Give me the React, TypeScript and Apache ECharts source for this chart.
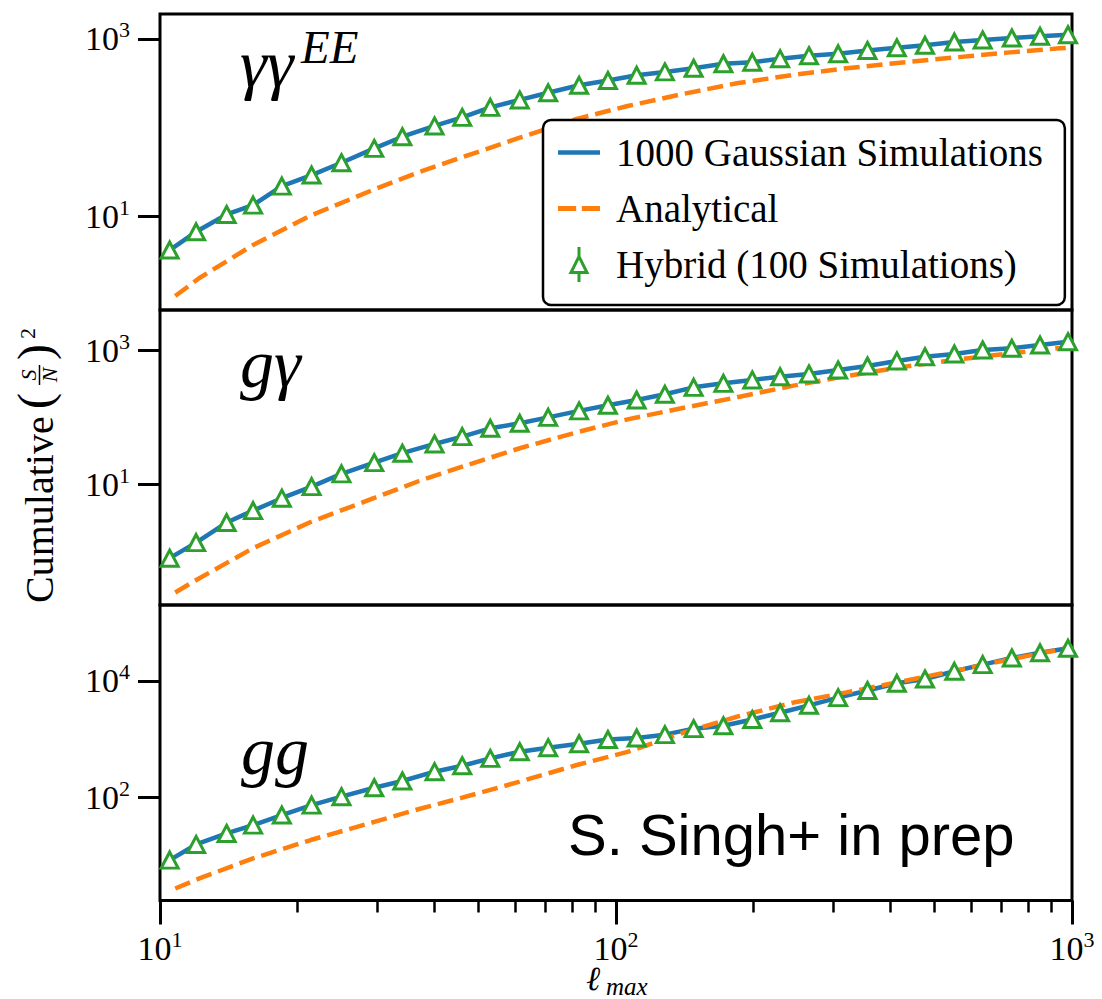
import React, { useEffect, useRef } from "react";
import * as echarts from "echarts";

// ---------- data ----------
// multipole bins (l_max) of the simulation / hybrid points
const ell = [10.5, 12, 14, 16, 18.5, 21.5, 25, 29.5, 34, 40, 46, 53, 61.5, 71, 83, 96, 111, 128, 148, 172, 199, 229, 265, 307, 356, 413, 476, 552, 637, 738, 851, 980];
// l_max positions where the analytical curve was read
const analyticEll = [10.8, 12.2, 16, 21.4, 29.5, 37, 46, 61.5, 82, 106, 140, 184, 245, 320, 420, 548, 720, 940, 1000];

// panel 1 : gamma gamma ^EE
const gaussEE = [4.21, 6.76, 10.6, 13.5, 22.1, 29.4, 40.5, 58.7, 79.4, 105, 131, 170, 206, 248, 301, 341, 390, 426, 468, 526, 548, 600, 647, 681, 743, 796, 849, 925, 975, 1026, 1072, 1117];
const hybridEE = [4.21, 6.76, 10.6, 13.5, 22.1, 29.4, 40.5, 58.7, 79.4, 105, 131, 170, 206, 248, 301, 341, 390, 426, 468, 526, 548, 600, 647, 681, 743, 796, 849, 925, 975, 1026, 1072, 1117];
const analyticEE = [1.28, 2.04, 4.80, 10.3, 20.3, 31.7, 46.7, 77.4, 126, 176, 240, 317, 394, 468, 541, 617, 702, 785, 802];

// panel 2 : g gamma
const gaussGgam = [0.771, 1.32, 2.64, 3.99, 6.12, 9.14, 14.2, 20.9, 29.0, 39.9, 51.4, 68.5, 81.5, 100, 125, 152, 182, 222, 282, 324, 364, 407, 448, 514, 590, 702, 813, 893, 1026, 1086, 1216, 1365];
const hybridGgam = [0.771, 1.32, 2.64, 3.99, 6.12, 9.14, 14.2, 20.9, 29.0, 39.9, 51.4, 68.5, 81.5, 100, 125, 152, 182, 222, 282, 324, 364, 407, 448, 514, 590, 702, 813, 893, 1026, 1086, 1216, 1365];
const analyticGgam = [0.236, 0.386, 1.09, 2.69, 6.17, 11.1, 18.2, 34.4, 59.7, 93.3, 138, 200, 299, 417, 562, 724, 902, 1096, 1148];

// panel 3 : g g
const gaussGG = [8.51, 15.8, 24.4, 33.9, 50.4, 74.6, 104, 148, 193, 279, 353, 471, 614, 718, 840, 993, 1054, 1202, 1524, 1706, 2188, 2851, 3828, 5176, 6871, 9120, 10810, 14650, 19060, 24770, 30410, 36310];
const hybridGG = [8.51, 15.8, 24.4, 33.9, 50.4, 74.6, 104, 148, 193, 279, 353, 471, 614, 718, 840, 993, 1054, 1202, 1524, 1706, 2188, 2851, 3828, 5176, 6871, 9120, 10810, 14650, 19060, 24770, 30410, 36310];
const analyticGG = [2.78, 4.13, 9.10, 18.8, 38.4, 64.0, 100, 188, 363, 610, 1288, 2438, 4266, 6368, 9683, 14720, 22910, 34510, 38460];

// tick values
const xMajorTicks = [10, 100, 1000];
const xMinorTicks = [20, 30, 40, 50, 60, 70, 80, 90, 200, 300, 400, 500, 600, 700, 800, 900];
const yTicksEE = [10, 1000];
const yTicksGgam = [10, 1000];
const yTicksGG = [100, 10000];

// axis ranges
const xMin = 10;
const xMax = 1000;
const yRangeEE = [0.891, 1910];
const yRangeGgam = [0.1529, 4083];
const yRangeGG = [1.73, 200400];

const seriesNames = ["1000 Gaussian Simulations", "Analytical", "Hybrid (100 Simulations)"];

// ---------- styling ----------
const SERIF = "'Liberation Serif', 'DejaVu Serif', serif";
const SANS = "'Liberation Sans', Arial, sans-serif";
const BLUE = "#1f77b4";
const ORANGE = "#ff7f0e";
const GREEN = "#2ca02c";

const pts = (xs: number[], ys: number[]) => xs.map((x, i) => [x, ys[i]]);
const powFmt = (v: number) => `{b|10}{s|${Math.round(Math.log10(v))}}`;
const tickRich = {
  b: { fontFamily: SERIF, fontSize: 34, color: "#000", lineHeight: 40 },
  s: { fontFamily: SERIF, fontSize: 22, color: "#000", verticalAlign: "top", lineHeight: 22 },
};

const gridTops = [14, 310, 605];
const gridHeights = [296, 295, 295.5];

const panels = [
  { gauss: gaussEE, hybrid: hybridEE, analytic: analyticEE, range: yRangeEE, ticks: yTicksEE },
  { gauss: gaussGgam, hybrid: hybridGgam, analytic: analyticGgam, range: yRangeGgam, ticks: yTicksGgam },
  { gauss: gaussGG, hybrid: hybridGG, analytic: analyticGG, range: yRangeGG, ticks: yTicksGG },
];

function buildOption() {
  const grid = panels.map((_, i) => ({
    left: 160,
    width: 912,
    top: gridTops[i],
    height: gridHeights[i],
    show: true,
    borderColor: "#000",
    borderWidth: 3,
    backgroundColor: "transparent",
  }));

  const xAxis: any[] = panels.map((_, i) => {
    const bottom = i === 2;
    return {
      gridIndex: i,
      type: "log",
      logBase: 10,
      min: xMin,
      max: xMax,
      axisLine: { show: false },
      splitLine: { show: false },
      minorTick: { show: false },
      axisTick: bottom
        ? { show: true, length: 24, customValues: xMajorTicks, lineStyle: { color: "#000", width: 3 } }
        : { show: false },
      axisLabel: bottom
        ? { show: true, customValues: xMajorTicks, margin: 28, formatter: powFmt, rich: tickRich }
        : { show: false },
    };
  });
  // minor ticks of the shared x axis
  xAxis.push({
    gridIndex: 2,
    type: "log",
    logBase: 10,
    min: xMin,
    max: xMax,
    position: "bottom",
    axisLine: { show: false },
    splitLine: { show: false },
    axisLabel: { show: false },
    axisTick: { show: true, length: 12, customValues: xMinorTicks, lineStyle: { color: "#000", width: 2.5 } },
  });

  const yAxis = panels.map((p, i) => ({
    gridIndex: i,
    type: "log",
    logBase: 10,
    min: p.range[0],
    max: p.range[1],
    axisLine: { show: false },
    splitLine: { show: false },
    minorTick: { show: false },
    axisTick: { show: true, length: 22, customValues: p.ticks, lineStyle: { color: "#000", width: 3 } },
    axisLabel: { show: true, customValues: p.ticks, margin: 30, formatter: powFmt, rich: tickRich },
  }));

  const series: any[] = [];
  panels.forEach((p, i) => {
    series.push({
      name: seriesNames[0],
      type: "line",
      xAxisIndex: i,
      yAxisIndex: i,
      data: pts(ell, p.gauss),
      symbol: "none",
      color: BLUE,
      lineStyle: { color: BLUE, width: 4.5 },
      z: 2,
    });
    series.push({
      name: seriesNames[1],
      type: "line",
      xAxisIndex: i,
      yAxisIndex: i,
      data: pts(analyticEll, p.analytic),
      symbol: "none",
      color: ORANGE,
      lineStyle: { color: ORANGE, width: 4.5, type: [16, 7] },
      z: 3,
    });
    series.push({
      name: seriesNames[2],
      type: "scatter",
      xAxisIndex: i,
      yAxisIndex: i,
      data: pts(ell, p.hybrid),
      symbol: "triangle",
      symbolSize: [17, 16],
      itemStyle: { color: "#fff", borderColor: GREEN, borderWidth: 3, opacity: 1 },
      z: 4,
    });
  });

  const legend = {
    orient: "vertical",
    left: 543,
    top: 120,
    padding: [13, 22, 21, 15],
    itemGap: 17,
    itemWidth: 42,
    itemHeight: 35,
    backgroundColor: "#fff",
    borderColor: "#000",
    borderWidth: 2.5,
    borderRadius: 8,
    selectedMode: false,
    z: 10,
    textStyle: { fontFamily: SERIF, fontSize: 39, color: "#000", padding: [0, 0, 0, 11] },
    data: [
      {
        name: seriesNames[0],
        icon: "path://M0 0H42V4.5H0Z",
        itemStyle: { color: BLUE, borderWidth: 0 },
      },
      {
        name: seriesNames[1],
        icon: "path://M0 0H16V4.5H0ZM21 0H37V4.5H21Z",
        itemStyle: { color: ORANGE, borderWidth: 0 },
      },
      {
        name: seriesNames[2],
        icon: "path://M9 0L9 9.5M1 25.5L9 9.5L17 25.5ZM9 25.5L9 35",
        itemStyle: { color: "#fff", borderColor: GREEN, borderWidth: 3 },
      },
    ],
  };

  const txt = (text: string, x: number, y: number, size: number, family: string, italic = false, align = "left") => ({
    type: "text",
    x,
    y,
    z: 20,
    style: {
      text,
      fill: "#000",
      fontFamily: family,
      fontStyle: italic ? "italic" : "normal",
      fontSize: size,
      align,
      verticalAlign: "middle",
      textAlign: align,
      textVerticalAlign: "middle",
    },
  });

  const graphic = [
    // panel labels
    txt("γγ", 240, 63.7, 68, SERIF, true),
    txt("EE", 301, 47, 47, SERIF, true),
    txt("gγ", 240, 363.7, 68, SERIF, true),
    txt("gg", 241, 750.7, 68, SERIF, true),
    // credit
    txt("S. Singh+ in prep", 568, 834, 58, SANS),
    // x axis title
    txt("ℓ", 586, 978, 34, SERIF, true),
    txt("max", 606, 986, 25, SERIF, true),
    // y axis title, rotated
    {
      type: "group",
      x: 53,
      y: 603,
      rotation: Math.PI / 2,
      children: [
        txt("Cumulative", 0, -13.5, 40, SERIF),
        txt("(", 194, -18.5, 48, SERIF),
        txt("S", 228, -24.5, 22, SERIF, true, "center"),
        {
          type: "line",
          shape: { x1: 218, y1: -13.5, x2: 238, y2: -13.5 },
          style: { stroke: "#000", lineWidth: 1.5 },
        },
        txt("N", 228, -3.5, 22, SERIF, true, "center"),
        txt(")", 243, -18.5, 48, SERIF),
        txt("2", 264, -25.5, 22, SERIF),
      ],
    },
  ];

  return {
    animation: false,
    backgroundColor: "#fff",
    grid,
    xAxis,
    yAxis,
    legend,
    series,
    graphic,
  };
}

export default function App() {
  const ref = useRef<HTMLDivElement>(null);
  useEffect(() => {
    if (!ref.current) return;
    const chart = echarts.init(ref.current, null, { renderer: "svg" });
    chart.setOption(buildOption() as any);
    return () => chart.dispose();
  }, []);
  return (
    <div
      ref={ref}
      style={{ position: "absolute", left: 0, top: 0, width: 1102, height: 999 }}
    />
  );
}
